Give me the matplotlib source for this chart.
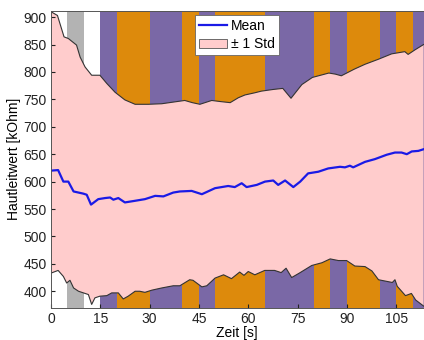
"""Hautleitwert ueber Zeit: Mittelwert +/- 1 Std mit Phasen im Hintergrund."""

import numpy as np
import matplotlib

matplotlib.use("Agg")
import matplotlib.pyplot as plt
from matplotlib.patches import Patch
from matplotlib.lines import Line2D

plt.rcParams["font.family"] = ["Liberation Sans", "DejaVu Sans"]

# phase bands: (start, end, kind)
band_start = [0, 5, 10, 15, 20, 30, 40, 45, 50, 65, 80, 85, 90, 100, 105, 110]
band_end = [5, 10, 15, 20, 30, 40, 45, 50, 65, 80, 85, 90, 100, 105, 110, 114]
band_kind = ["none", "gray", "none", "purple", "orange", "purple", "orange", "purple",
             "orange", "purple", "orange", "purple", "orange", "purple", "orange", "purple"]

t_upper = [0, 2, 4, 5.3, 7.8, 8.9, 10.4, 12.4, 14.9, 17, 19.5, 22.5, 25.6, 29.6, 33.7,
           37.2, 40.7, 43, 45.3, 48.9, 51.5, 54.5, 57, 59, 62, 64, 67.5, 70.5, 73,
           76.3, 79.5, 84.5, 86.5, 88.3, 92.2, 95.5, 99.5, 103.6, 107.6, 108.6, 110.6, 113.3]
upper = [910, 903, 864, 861, 849, 827, 809, 794, 794, 779, 763, 749, 741, 741, 742,
         745, 748, 744, 741, 748, 746, 744, 753, 758, 762, 765, 768, 770, 752,
         777, 790, 798, 796, 793, 805, 814, 823, 833, 837, 832, 840, 850]

t_mean = [0, 2.2, 3.8, 5.3, 6.9, 9.9, 10.9, 12.2, 14.4, 16.5, 18, 19, 20.5, 22.5,
          25.6, 28.6, 31.7, 34.2, 37.2, 39.2, 42.8, 45.9, 49.9, 53.9, 55.9, 58, 59.5,
          62.6, 65.1, 67.6, 69.1, 71.2, 73.7, 75.8, 78.2, 81.3, 84.3, 87.9, 89.4, 90.9,
          91.9, 95.5, 98.5, 102.1, 104.6, 106.6, 108.2, 109.7, 111.7, 113.3]
mean = [620, 621, 600, 600, 582, 578, 576, 558, 568, 570, 571, 567, 570, 562,
        565, 568, 574, 573, 580, 582, 583, 577, 588, 592, 590, 597, 590,
        594, 600, 602, 594, 602, 590, 600, 615, 618, 624, 627, 626, 629,
        626, 636, 641, 649, 653, 653, 650, 655, 656, 659]

t_lower = [0, 2.2, 3.8, 4.8, 5.8, 6.9, 8.4, 9.9, 11.4, 12.4, 13.4, 14.9, 17, 18.5,
           20.5, 22, 23.5, 25.6, 27, 28.6, 30.7, 33.7, 37.2, 39.2, 42.2, 43.2, 45.9,
           47.4, 49.9, 52.5, 54.9, 57.4, 58.7, 60, 62, 65, 68, 70, 71.5, 73.2, 75.5,
           79.3, 82.4, 84.9, 87.4, 89.9, 92.4, 95.5, 97.6, 99.6, 103.8, 104.6, 105.3,
           107.8, 109.6, 110.9, 113.3]
lower = [433, 438, 427, 415, 420, 406, 400, 397, 394, 376, 388, 391, 392, 397,
         397, 386, 391, 400, 400, 398, 402, 406, 410, 410, 421, 420, 408,
         410, 424, 430, 423, 435, 429, 436, 430, 438, 438, 434, 442, 425, 433,
         447, 452, 459, 456, 456, 446, 445, 437, 421, 416, 421, 409,
         392, 396, 384, 373]

band_colors = {"none": "white", "gray": "#b3b3b3", "purple": "#7a68a6", "orange": "#dd8a0c"}

fig = plt.figure(figsize=(4.24, 3.40), dpi=100)
ax = fig.add_axes([0.12, 0.095, 0.879, 0.874])

for start, end, kind in zip(band_start, band_end, band_kind):
    if kind == "none":
        continue
    ax.axvspan(start, end, color=band_colors[kind], lw=0, zorder=0)

poly_x = np.concatenate([t_upper, t_lower[::-1]])
poly_y = np.concatenate([upper, lower[::-1]])
ax.fill(poly_x, poly_y, facecolor="#ffcccc", edgecolor="none", zorder=1)
ax.plot(t_upper, upper, color="#333333", lw=0.8, zorder=2)
ax.plot(t_lower, lower, color="#333333", lw=0.8, zorder=2)
ax.plot(t_mean, mean, color="#1a1ae6", lw=1.6, zorder=3)

ax.set_xlim(0, 113.3)
ax.set_ylim(370, 912)
ax.set_xticks(np.arange(0, 106, 15))
ax.set_yticks(np.arange(400, 901, 50))
ax.tick_params(direction="in", length=3, labelsize=10, colors="#222222", pad=3)
for spine in ax.spines.values():
    spine.set_color("#555555")
    spine.set_linewidth(0.7)
    spine.set_zorder(5)

ax.set_xlabel("Zeit [s]", fontsize=10, labelpad=0)
ax.set_ylabel("Hautleitwert [kOhm]", fontsize=10, labelpad=2)

handles = [
    Line2D([], [], color="#1a1ae6", lw=1.6),
    Patch(facecolor="#ffcccc", edgecolor="#555555", lw=0.6),
]
leg = ax.legend(handles, ["Mean", "\u00b1 1 Std"], loc="upper right",
                bbox_to_anchor=(0.612, 0.985), borderaxespad=0, fontsize=10,
                fancybox=False, framealpha=1, edgecolor="#666666",
                handlelength=2.0, handletextpad=0.3, borderpad=0.3, labelspacing=0.3)
leg.get_frame().set_linewidth(0.6)
leg.set_zorder(10)

fig.savefig("out.png", dpi=100)
plt.close(fig)
